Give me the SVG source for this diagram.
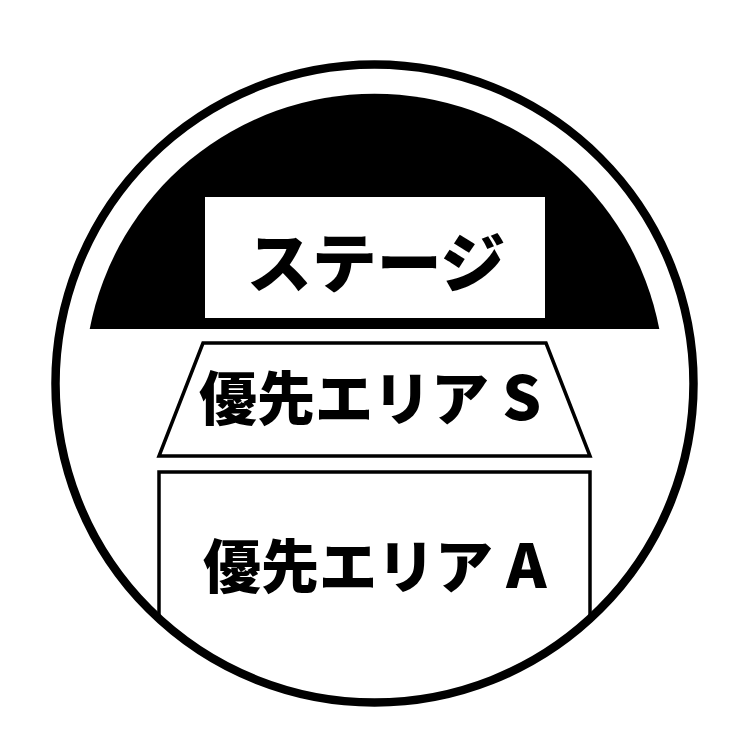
<svg xmlns="http://www.w3.org/2000/svg" width="750" height="744" viewBox="0 0 750 744">
  <style>
    .lbl { font-family: "Noto Sans CJK JP", "Noto Sans", sans-serif; font-weight: 900; fill: #000; }
    .edge { fill: #fff; stroke: #000; stroke-width: 3.5; stroke-linejoin: miter; }
  </style>
  <defs>
    <clipPath id="inner">
      <circle cx="374.5" cy="383.5" r="316"/>
    </clipPath>
  </defs>
  <rect width="750" height="744" fill="#fff"/>
  <g id="stage">
    <path d="M 89.7,329 A 290 290 0 0 1 659.3,329 Z" fill="#000"/>
    <rect x="205" y="197" width="340" height="121" fill="#fff"/>
    <text class="lbl" x="376" y="287" font-size="65" text-anchor="middle">ステージ</text>
  </g>
  <g id="areaS">
    <polygon class="edge" points="203,343 546,343 590,456 159,456"/>
    <text class="lbl" x="199" y="420" font-size="58">優先エリア <tspan font-size="61">S</tspan></text>
  </g>
  <g id="areaA">
    <path class="edge" d="M 159,640 V 472 H 590 V 640" fill="none" clip-path="url(#inner)"/>
    <text class="lbl" x="203" y="588" font-size="58">優先エリア <tspan font-size="61">A</tspan></text>
  </g>
  <g id="connectors"></g>
  <g id="frame">
    <circle cx="374.5" cy="383.5" r="319" fill="none" stroke="#000" stroke-width="8.5"/>
  </g>
</svg>
